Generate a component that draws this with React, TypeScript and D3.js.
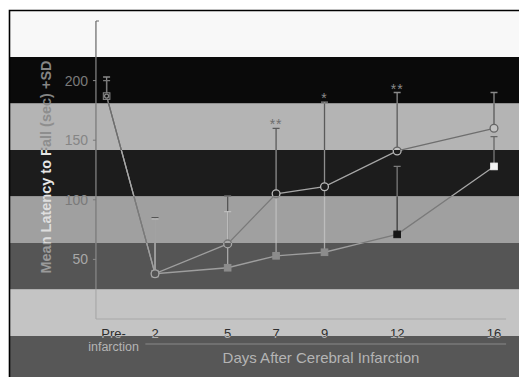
import React from "react";
import * as d3 from "d3";

// days after infarction (0 = pre-infarction)
const days = [0, 2, 5, 7, 9, 12, 16];
const dayLabels = ["Pre-", "2", "5", "7", "9", "12", "16"];
// circles
const circleMean = [187, 38, 63, 105, 111, 141, 160];
const circleSD = [16, 47, 40, 55, 71, 49, 30];
// squares
const squareMean = [187, 38, 43, 53, 56, 71, 128];
const squareSD = [13, 46, 47, 52, 55, 57, 25];
const stars = ["", "", "", "**", "*", "**", ""];
const yTicks = [50, 100, 150, 200];

const W = 519;
const H = 377;
const FONT = "'Liberation Sans', Arial, sans-serif";

// background bands, top to bottom
const bandTop = 10.5;
const bandH = 46.5;
const palettes = [
  { bg: "#f8f8f8", axis: "#666666" },
  { bg: "#0a0a0a", axis: "#8a8a8a", tick: "#7a7a7a", title: "#858585", line: "#7a7a7a", errA: "#8a8a8a", errB: "#7a7a7a", cStroke: "#8a8a8a", cFill: "#0a0a0a", sFill: "#1a1a1a", sStroke: "#8a8a8a", star: "#8a8a8a" },
  { bg: "#b4b4b4", axis: "#777777", tick: "#858585", title: "#8e8e8e", line: "#6e6e6e", errA: "#5a5a5a", errB: "#666666", cStroke: "#666666", cFill: "#c2c2c2", sFill: "#777777", star: "#6e6e6e" },
  { bg: "#1c1c1c", axis: "#8a8a8a", tick: "#888888", title: "#e6e6e6", line: "#a6a6a6", errA: "#8e8e8e", errB: "#7a7a7a", cStroke: "#b8b8b8", cFill: "#1c1c1c", sFill: "#f4f4f4", star: "#888888" },
  { bg: "#a0a0a0", axis: "#787878", tick: "#7a7a7a", title: "#dedede", line: "#7a7a7a", errA: "#555555", errB: "#bdbdbd", errBOwn: "#3a3a3a", cStroke: "#777777", cFill: "#a8a8a8", sFill: "#151515" },
  { bg: "#555555", axis: "#8a8a8a", tick: "#a8a8a8", title: "#9a9a9a", line: "#9e9e9e", errA: "#9a9a9a", errB: "#a8a8a8", cStroke: "#a8a8a8", cFill: "#555555", sFill: "#8c8c8c" },
  { bg: "#c4c4c4", axis: "#a8a8a8", xlab: "#2e2e2e", sub: "#2e2e2e" },
  { bg: "#575757", axis: "#8a8a8a", xlab: "#b0b0b0", sub: "#b4b4b4" },
];

const x = d3.scaleLinear().domain([0, 16]).range([106.6, 494]);
const y = d3.scaleLinear().domain([0, 250]).range([319, 21]);
const axisLeft = x(-0.44);
const axisRight = x(16.5);

const bandOf = (py: number) => Math.floor((py - bandTop) / bandH);

const circlePts = days.map((d, i) => ({ d, m: circleMean[i], sd: circleSD[i] }));
const squarePts = days.map((d, i) => ({ d, m: squareMean[i], sd: squareSD[i] }));

const line = d3
  .line<{ d: number; m: number }>()
  .x(p => x(p.d))
  .y(p => y(p.m));

const Layer = ({ p, idx }: { p: any; idx: number }) => {
  const line1 = p.line || p.axis;
  return (
    <g>
      <rect x={0} y={bandTop + idx * bandH} width={W} height={bandH + 1} fill={p.bg} />
      {/* axes */}
      <line x1={axisLeft} x2={axisLeft} y1={y(250)} y2={y(0)} stroke={p.axis} strokeWidth={1.2} />
      <line x1={axisLeft} x2={axisLeft + 3} y1={y(250)} y2={y(250)} stroke={p.axis} strokeWidth={1.2} />
      <line x1={axisLeft} x2={axisRight} y1={y(0)} y2={y(0)} stroke={p.axis} strokeWidth={1.2} />
      {yTicks.map(t => (
        <g key={t}>
          <line x1={axisLeft - 3} x2={axisLeft} y1={y(t)} y2={y(t)} stroke={p.axis} />
          <text x={88} y={y(t)} dy="0.36em" textAnchor="end" fontSize={14} fontFamily={FONT} fill={p.tick || p.axis}>
            {t}
          </text>
        </g>
      ))}
      <text
        transform={`translate(51,167) rotate(-90)`}
        textAnchor="middle"
        fontSize={14.5}
        fontWeight="bold"
        fontFamily={FONT}
        fill={p.title || p.axis}
      >
        Mean Latency to Fall (sec) +SD
      </text>
      {/* error bars */}
      {circlePts.map((c, i) => (
        <g key={"ea" + i} stroke={p.errA || p.axis} strokeWidth={1.3}>
          <line x1={x(c.d)} x2={x(c.d)} y1={y(c.m)} y2={y(c.m + c.sd)} />
          <line x1={x(c.d) - 3.5} x2={x(c.d) + 3.5} y1={y(c.m + c.sd)} y2={y(c.m + c.sd)} />
        </g>
      ))}
      {squarePts.map((s, i) => {
        const own = bandOf(y(s.m)) === idx;
        const col = (own && p.errBOwn) || p.errB || p.axis;
        return (
          <g key={"eb" + i} stroke={col} strokeWidth={1.3}>
            <line x1={x(s.d)} x2={x(s.d)} y1={y(s.m)} y2={y(s.m + s.sd)} />
            <line x1={x(s.d) - 3.5} x2={x(s.d) + 3.5} y1={y(s.m + s.sd)} y2={y(s.m + s.sd)} />
          </g>
        );
      })}
      {/* series lines */}
      <path d={line(squarePts) || ""} fill="none" stroke={line1} strokeWidth={1.3} />
      <path d={line(circlePts) || ""} fill="none" stroke={line1} strokeWidth={1.3} />
      {/* markers */}
      {squarePts.map((s, i) => (
        <rect
          key={"s" + i}
          x={x(s.d) - 3.3}
          y={y(s.m) - 3.3}
          width={6.6}
          height={6.6}
          fill={p.sFill || p.bg}
          stroke={p.sStroke || p.sFill || p.bg}
          strokeWidth={1}
        />
      ))}
      {circlePts.map((c, i) => (
        <circle
          key={"c" + i}
          cx={x(c.d)}
          cy={y(c.m)}
          r={i === 0 ? 2 : 3.9}
          fill={p.cFill || p.bg}
          stroke={p.cStroke || p.axis}
          strokeWidth={1.3}
        />
      ))}
      {circlePts.map((c, i) =>
        stars[i] ? (
          <text
            key={"st" + i}
            x={x(c.d)}
            y={y(c.m + c.sd) + 1}
            textAnchor="middle"
            fontSize={14}
            letterSpacing={1}
            fontFamily={FONT}
            fill={p.star || p.axis}
          >
            {stars[i]}
          </text>
        ) : null
      )}
      {/* x labels */}
      {days.map((d, i) => (
        <text
          key={"xl" + i}
          x={x(d) + (i === 0 ? 7 : 0)}
          y={338}
          textAnchor="middle"
          fontSize={13}
          fontFamily={FONT}
          fill={p.xlab || p.axis}
        >
          {dayLabels[i]}
        </text>
      ))}
      <text x={x(0) + 7} y={351} textAnchor="middle" fontSize={12.5} fontFamily={FONT} fill={p.sub || p.axis}>
        infarction
      </text>
      <line x1={x(1.6)} x2={axisRight} y1={344} y2={344} stroke={p.axis} strokeWidth={1.2} />
      <text x={321} y={363} textAnchor="middle" fontSize={15} fontFamily={FONT} fill={p.sub || p.axis}>
        Days After Cerebral Infarction
      </text>
    </g>
  );
};

const App = () => {
  return (
    <svg width={W} height={H} style={{ position: "absolute", left: 0, top: 0 }}>
      <rect width={W} height={H} fill="#ffffff" />
      <defs>
        {palettes.map((_, i) => (
          <clipPath id={"band" + i} key={i}>
            <rect x={10} y={bandTop + i * bandH} width={W} height={i === palettes.length - 1 ? H : bandH} />
          </clipPath>
        ))}
      </defs>
      {palettes.map((p, i) => (
        <g key={i} clipPath={`url(#band${i})`}>
          <Layer p={p} idx={i} />
        </g>
      ))}
      <path d={`M9.5,${H} V10.5 H${W}`} fill="none" stroke="#000" strokeWidth={1.6} />
    </svg>
  );
};

export default App;
